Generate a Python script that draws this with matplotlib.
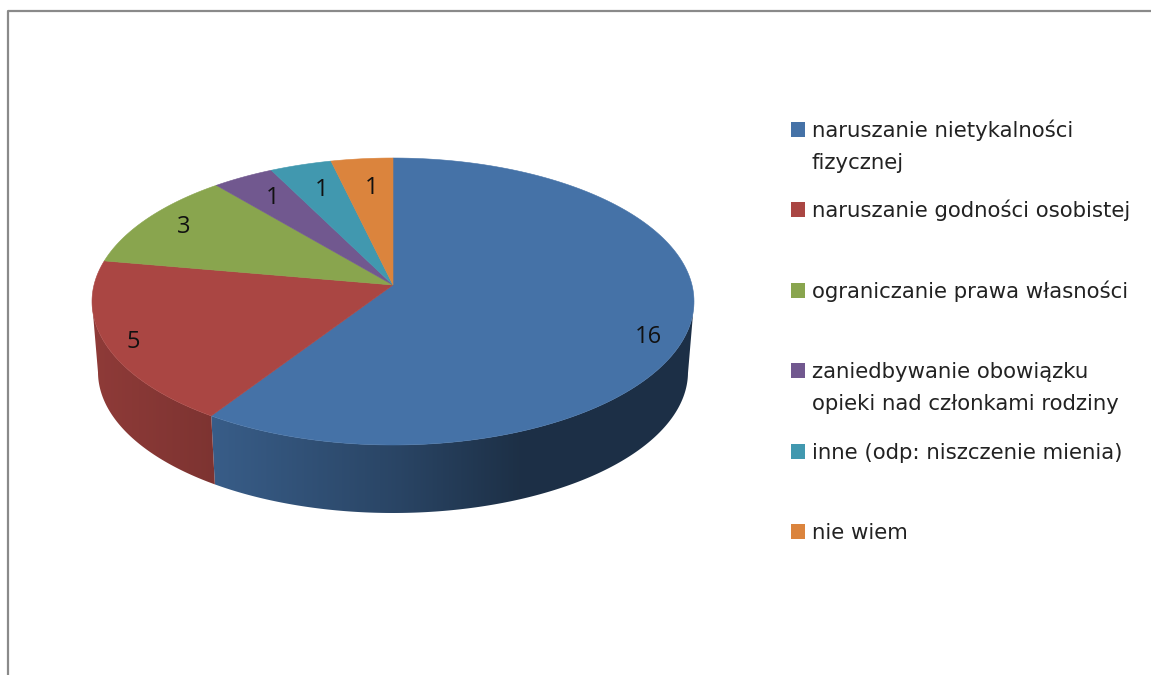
import numpy as np
import matplotlib
matplotlib.use('Agg')
import matplotlib.pyplot as plt
from matplotlib.patches import Rectangle, Polygon

labels = ['naruszanie nietykalności\nfizycznej', 'naruszanie godności osobistej',
          'ograniczanie prawa własności', 'zaniedbywanie obowiązku\nopieki nad członkami rodziny',
          'inne (odp: niszczenie mienia)', 'nie wiem']
values = [16, 5, 3, 1, 1, 1]
colors = ['#4572A7', '#AA4643', '#89A54E', '#71588F', '#4198AF', '#DB843D']
legend_base = [137, 217, 298, 378, 459, 539]
label_pos = [(648, 337), (133, 342), (184, 227), (273, 198), (322, 190), (372, 188)]

W, H = 1151, 675
CX, APEX_Y = 393, 285
A, B, K = 299, 141.6, -0.115   # perspective of the tilted disc
MID_Y = 301.5                  # y of the widest part of the top ellipse
BOT_RX, BOT_RY, BOT_Y = 295 / 301, 141 / 143.5, 372


def top(t):
    # angle of the pie, clockwise from 12 o'clock, to pixels
    u, v = np.sin(t), -np.cos(t)
    d = 1 + K * v
    return CX + A * u / d, APEX_Y + B * v / d


def bottom(t):
    x, y = top(t)
    return CX + (x - CX) * BOT_RX, BOT_Y + (y - MID_Y) * BOT_RY


def wall_shade(i, x):
    # brightness of the side wall along x
    if i == 0:
        return np.interp(x, [209, 400, 520, 700], [0.82, 0.60, 0.42, 0.42])
    return np.interp(x, [92, 209], [0.84, 0.74])


fig = plt.figure(figsize=(W / 100, H / 100), dpi=100)
ax = fig.add_axes([0, 0, 1, 1])

# chart frame
ax.plot([8, 8, 1151], [675, 11, 11], color='#8a8a8a', lw=1.6)

total = sum(values)
edges = np.cumsum([0] + values) / total * 2 * np.pi

# side wall, front part only
xs_all = np.arange(W) + 0.5
for i, v in enumerate(values):
    ts = np.linspace(edges[i], edges[i + 1], 300)
    ts = ts[top(ts)[1] >= MID_Y]
    if len(ts) < 2:
        continue
    xt, yt = top(ts)
    xb, yb = bottom(ts)
    poly = Polygon(np.column_stack([np.r_[xt, xb[::-1]], np.r_[yt, yb[::-1]]]),
                   facecolor='none', edgecolor='none', transform=ax.transData)
    ax.add_patch(poly)
    ramp = np.outer(wall_shade(i, xs_all), np.array(matplotlib.colors.to_rgb(colors[i])))
    im = ax.imshow(ramp[np.newaxis, :, :], extent=(0, W, H, 0), aspect='auto', interpolation='bilinear')
    im.set_clip_path(poly)

# top of the slices
for i, v in enumerate(values):
    ts = np.linspace(edges[i], edges[i + 1], 200)
    xs, ys = top(ts)
    pts = np.column_stack([np.r_[CX, xs], np.r_[APEX_Y, ys]])
    ax.add_patch(Polygon(pts, facecolor=colors[i], edgecolor=colors[i], lw=0.4, zorder=3))

for v, (x, y) in zip(values, label_pos):
    ax.text(x, y, str(v), ha='center', va='center', fontsize=17, color='#111111',
            family='Open Sans', zorder=4)

# legend
for lab, col, y in zip(labels, colors, legend_base):
    ax.add_patch(Rectangle((791, y - 15), 14, 15, facecolor=col, edgecolor='none'))
    for j, line in enumerate(lab.split('\n')):
        ax.text(812, y + 32 * j, line, ha='left', va='baseline', fontsize=15.3,
                color='#222222', family='DejaVu Sans')

ax.set_xlim(0, W)
ax.set_ylim(H, 0)
ax.axis('off')

fig.savefig('out.png', dpi=100)
